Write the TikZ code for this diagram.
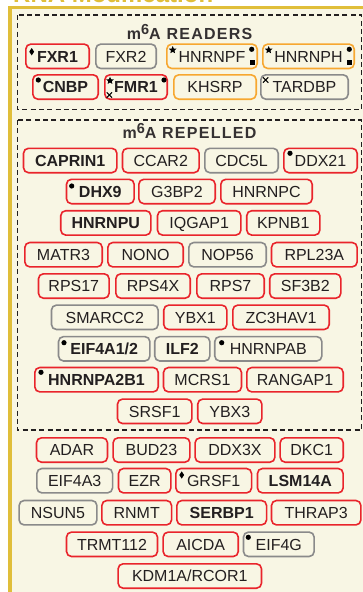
\documentclass[tikz,border=0pt]{standalone}
\usepackage{fontspec}
\setmainfont{Liberation Sans}
\usetikzlibrary{shapes.geometric,shapes.misc}

\definecolor{panelbg}{RGB}{248,246,228}
\definecolor{panelgold}{RGB}{224,190,58}
\definecolor{boxred}{RGB}{233,36,43}
\definecolor{boxgray}{RGB}{138,138,138}
\definecolor{boxorange}{RGB}{247,167,48}
\definecolor{txtdark}{RGB}{35,31,32}

\newcommand{\mSixA}{m\raisebox{5pt}{\fontsize{14.5}{14.5}\selectfont 6}A}

\begin{document}
\begin{tikzpicture}[x=1pt,y=-1pt,
	gene/.style={rounded corners=5pt, line width=1.6pt, fill=panelbg,
		minimum height=24.4pt, inner sep=0pt, text height=11.5pt, text depth=0pt,
		text=txtdark, font=\fontsize{16}{16}\selectfont},
	redgene/.style={gene, draw=boxred, minimum width=#1},
	graygene/.style={gene, draw=boxgray, minimum width=#1},
	orangegene/.style={gene, draw=boxorange, minimum width=#1},
	groupbox/.style={draw=txtdark, dash pattern=on 5pt off 3.3pt, line width=1.3pt},
	grouptitle/.style={anchor=base, text=txtdark!92,
		font=\fontsize{16}{16}\selectfont\bfseries\addfontfeature{LetterSpace=8}},
	dotmk/.style={circle, fill=black, inner sep=0pt, minimum size=5.2pt},
	sqmk/.style={rectangle, fill=black, inner sep=0pt, minimum size=4.6pt},
	starmk/.style={star, star points=5, star point ratio=2.2, fill=black, inner sep=0pt, minimum size=8pt},
	diamk/.style={diamond, aspect=0.7, fill=black, inner sep=0pt, minimum width=5pt, minimum height=7.5pt},
	xmk/.style={cross out, draw=black, line width=1.1pt, inner sep=0pt, minimum size=4.2pt}]

\useasboundingbox (0,0) rectangle (363,592);
\fill[white] (0,0) rectangle (363,592);

% panel
\node[anchor=base west, inner sep=0pt, text=panelgold,
	font=\fontsize{24}{24}\selectfont\bfseries] (paneltitle) at (13,2.6) {RNA Modification};
\fill[panelbg] (10,7.2) rectangle (380,610);
\draw[panelgold, line width=3.3pt] (10,610) -- (10,7.2) -- (380,7.2);

% readers
\draw[groupbox] (17.3,15) rectangle (361.7,109.5);
\node[grouptitle] (readers) at (189.7,39) {\mSixA{} READERS};

\node[redgene=63.4] (fxr1) at (57.5,56.3) {\bfseries FXR1};
\node[graygene=60.4] (fxr2) at (126,56.3) {FXR2};
\node[orangegene=90.4] (hnrnpf) at (212,56.3) {HNRNPF};
\node[orangegene=91.4] (hnrnph) at (308.5,56.3) {HNRNPH};

\node[redgene=65.4] (cnbp) at (65.5,87) {\bfseries CNBP};
\node[redgene=62.4] (fmr1) at (136,87) {\bfseries FMR1};
\node[orangegene=82.4] (khsrp) at (215,87) {KHSRP};
\node[graygene=87.4] (tardbp) at (304.5,87) {TARDBP};

% repelled
\draw[groupbox] (17.3,120) rectangle (361.7,430);
\node[grouptitle] (repelled) at (189.5,138.3) {\mSixA{} REPELLED};

\node[redgene=93.4] (caprin1) at (70.2,160.5) {\bfseries CAPRIN1};
\node[redgene=76.7] (ccar2) at (160.8,160.5) {CCAR2};
\node[graygene=73.4] (cdc5l) at (241.5,160.5) {CDC5L};
\node[redgene=73.4] (ddx21) at (320.5,160.5) {DDX21};

\node[redgene=67.7] (dhx9) at (100.3,191.5) {\bfseries DHX9};
\node[redgene=76.4] (g3bp2) at (177,191.5) {G3BP2};
\node[redgene=91.4] (hnrnpc) at (266.5,191.5) {HNRNPC};

\node[redgene=90.1] (hnrnpu) at (105.8,222.9) {\bfseries HNRNPU};
\node[redgene=83.4] (iqgap1) at (199.2,222.9) {IQGAP1};
\node[redgene=73.1] (kpnb1) at (283.3,222.9) {KPNB1};

\node[redgene=77.4] (matr3) at (63.5,254.7) {MATR3};
\node[redgene=75.4] (nono) at (145.5,254.7) {NONO};
\node[graygene=77.4] (nop56) at (227.5,254.7) {NOP56};
\node[redgene=85.7] (rpl23a) at (314.3,254.7) {RPL23A};

\node[redgene=70.7] (rps17) at (73.8,286) {RPS17};
\node[redgene=74.4] (rps4x) at (153,286) {RPS4X};
\node[redgene=67.4] (rps7) at (230.5,286) {RPS7};
\node[redgene=71.1] (sf3b2) at (305.3,286) {SF3B2};

\node[graygene=106.7] (smarcc2) at (104.8,317.3) {SMARCC2};
\node[redgene=63.1] (ybx1) at (195.3,317.3) {YBX1};
\node[redgene=96.4] (zc3hav1) at (281,317.3) {ZC3HAV1};

\node[graygene=91.4] (eif4a12) at (104.2,348.8) {\bfseries EIF4A1/2};
\node[graygene=55.1] (ilf2) at (182.3,348.8) {\bfseries ILF2};
\node[graygene=107.1] (hnrnpab) at (268.3,348.8) {HNRNPAB};

\node[redgene=123.4] (hnrnpa2b1) at (96.5,379.7) {\bfseries HNRNPA2B1};
\node[redgene=78] (mcrs1) at (202.5,379.7) {MCRS1};
\node[redgene=96.4] (rangap1) at (295,379.7) {RANGAP1};

\node[redgene=74.4] (srsf1) at (154.7,411.3) {SRSF1};
\node[redgene=64.1] (ybx3) at (229.8,411.3) {YBX3};

% others
\node[redgene=71] (adar) at (72,450) {ADAR};
\node[redgene=76.8] (bud23) at (151.5,450) {BUD23};
\node[redgene=79.8] (ddx3x) at (235,450) {DDX3X};
\node[redgene=63.1] (dkc1) at (311.7,450) {DKC1};

\node[graygene=75.7] (eif4a3) at (74.7,480.7) {EIF4A3};
\node[redgene=52.4] (ezr) at (144.7,480.7) {EZR};
\node[redgene=75.7] (grsf1) at (213.7,480.7) {GRSF1};
\node[redgene=85.7] (lsm14a) at (300.3,480.7) {\bfseries LSM14A};

\node[graygene=77.8] (nsun5) at (58,512.7) {NSUN5};
\node[redgene=69.7] (rnmt) at (136.7,512.7) {RNMT};
\node[redgene=89.7] (serbp1) at (221.7,512.7) {\bfseries SERBP1};
\node[redgene=89.4] (thrap3) at (316.2,512.7) {THRAP3};

\node[redgene=91] (trmt112) at (112,544.3) {TRMT112};
\node[redgene=75.1] (aicda) at (200.7,544.3) {AICDA};
\node[graygene=70.7] (eif4g) at (278.8,544.3) {EIF4G};

\node[redgene=143.4] (kdm1a) at (189.8,576) {KDM1A/RCOR1};

% symbols
\node[diamk] (fxr1-dia) at (31.7,51.7) {};
\node[starmk] (hnrnpf-star) at (172.7,50) {};
\node[dotmk] (hnrnpf-dot) at (251.7,49.3) {};
\node[sqmk] (hnrnpf-sq) at (252.7,62.7) {};
\node[starmk] (hnrnph-star) at (268.7,50) {};
\node[dotmk] (hnrnph-dot) at (349.3,49.3) {};
\node[sqmk] (hnrnph-sq) at (349.3,62.3) {};
\node[dotmk] (cnbp-dot) at (38.3,80) {};
\node[starmk] (fmr1-star) at (110,80.7) {};
\node[xmk] (fmr1-x) at (109.3,95) {};
\node[dotmk] (fmr1-dot) at (164,80) {};
\node[xmk] (tardbp-x) at (265.7,80) {};
\node[dotmk] (ddx21-dot) at (290,153.3) {};
\node[dotmk] (dhx9-dot) at (71.7,186) {};
\node[dotmk] (eif4a12-dot) at (64,342.7) {};
\node[dotmk] (hnrnpab-dot) at (221.7,342.7) {};
\node[dotmk] (hnrnpa2b1-dot) at (41,372.3) {};
\node[diamk] (grsf1-dia) at (181.7,475) {};
\node[dotmk] (eif4g-dot) at (248.3,537.3) {};

\end{tikzpicture}
\end{document}
